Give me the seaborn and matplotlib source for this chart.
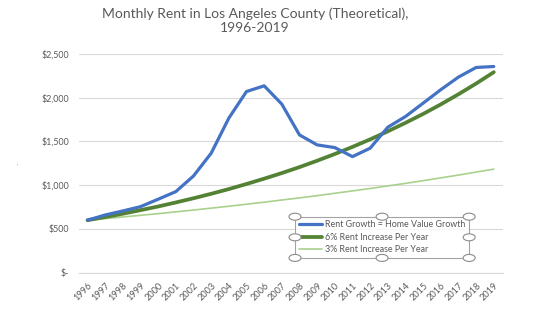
import matplotlib
matplotlib.use("Agg")
import matplotlib.pyplot as plt
import seaborn as sns
import pandas as pd
from matplotlib.patches import Circle
from matplotlib.ticker import FuncFormatter

years = list(range(1996, 2020))
home_value_growth = [600, 660, 706, 755, 840, 927, 1106, 1366, 1767, 2071, 2136, 1927,
                     1575, 1461, 1430, 1327, 1423, 1663, 1785, 1938, 2092, 2236, 2346, 2357]
six_pct = [600, 636, 674, 715, 757, 803, 851, 902, 956, 1014, 1075, 1139,
           1207, 1280, 1357, 1438, 1524, 1616, 1713, 1815, 1924, 2040, 2162, 2292]
three_pct = [600, 618, 637, 656, 675, 696, 716, 738, 760, 783, 806, 831,
             855, 881, 908, 935, 963, 992, 1021, 1052, 1084, 1116, 1150, 1184]
series_names = ["Rent Growth = Home Value Growth", "6% Rent Increase Per Year",
                "3% Rent Increase Per Year"]
colors = ["#4472C4", "#548235", "#A9D18E"]
widths = [2.3, 2.7, 1.2]
title = "Monthly Rent in Los Angeles County (Theoretical),\n1996-2019"

df = pd.concat([
    pd.DataFrame({"Year": years, "Rent": vals, "Series": name})
    for name, vals in zip(series_names, [home_value_growth, six_pct, three_pct])
])

sns.set_theme(style="white")
plt.rcParams["font.family"] = ["Lato", "DejaVu Sans"]

W, H = 555, 324
fig = plt.figure(figsize=(W / 100, H / 100), dpi=100)
ax = fig.add_axes([78.7 / W, 1 - 272.7 / H, (502.6 - 78.7) / W, (272.7 - 54) / H])

for name, c, lw in reversed(list(zip(series_names, colors, widths))):
    sns.lineplot(data=df[df["Series"] == name], x="Year", y="Rent", color=c,
                 linewidth=lw, ax=ax, label=name, legend=False,
                 solid_capstyle="round", solid_joinstyle="round")

ax.set_xlim(1995.5, 2019.5)
ax.set_ylim(0, 2500)
ax.set_yticks([0, 500, 1000, 1500, 2000, 2500])
ax.yaxis.set_major_formatter(FuncFormatter(lambda v, p: "$-" if v == 0 else f"${int(v):,}"))
ax.set_xticks(years)
ax.set_xticklabels([str(y) for y in years], rotation=45, ha="right",
                   rotation_mode="anchor")
ax.grid(axis="y", color="#D9D9D9", linewidth=0.8)
ax.grid(axis="x", visible=False)
for s in ["top", "right", "left"]:
    ax.spines[s].set_visible(False)
ax.spines["bottom"].set_color("#D9D9D9")
ax.spines["bottom"].set_linewidth(0.8)
ax.tick_params(axis="y", length=0, pad=7, labelsize=6.4, labelcolor="#595959")
ax.tick_params(axis="x", length=0, pad=6, labelsize=6.6, labelcolor="#595959")
ax.set_xlabel("")
ax.set_ylabel("-", color="#A0A0A0", fontsize=5, labelpad=14)

fig.text(255 / W, 1 - 21 / H, title, ha="center", va="center", fontsize=10,
         color="#595959", linespacing=1.2)

handles = [plt.Line2D([], [], color=c, linewidth=lw) for c, lw in zip(colors, widths)]
leg = fig.legend(handles, series_names, loc="upper left",
                 bbox_to_anchor=(295 / W, 1 - 216.7 / H),
                 fontsize=6.4, labelcolor="#595959", frameon=True, fancybox=False,
                 handlelength=2.6, handletextpad=0.4, borderpad=0.4,
                 labelspacing=0.4, borderaxespad=0)
leg.get_frame().set_edgecolor("#8C8C8C")
leg.get_frame().set_linewidth(0.8)

fig.canvas.draw()
bb = leg.get_window_extent()
x0, y0, x1, y1 = bb.x0, bb.y0, bb.x1, bb.y1
xm, ym = (x0 + x1) / 2, (y0 + y1) / 2
for (px, py) in [(x0, y0), (xm, y0), (x1, y0), (x0, ym), (x1, ym), (x0, y1), (xm, y1), (x1, y1)]:
    fig.patches.append(Circle((px / W, py / H), 3.5 / H, transform=fig.transFigure,
                              facecolor="white", edgecolor="#8C8C8C", linewidth=0.8,
                              zorder=10))

fig.savefig("out.png", dpi=100)
